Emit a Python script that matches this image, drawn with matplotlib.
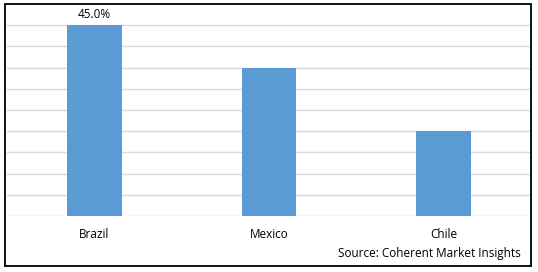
import numpy as np
import matplotlib.pyplot as plt
from matplotlib.patches import Rectangle

countries = ['Brazil', 'Mexico', 'Chile']
share = [45.0, 35.0, 20.0]

plt.rcParams['font.family'] = ['Open Sans', 'DejaVu Sans']

W, H = 538, 272
fig = plt.figure(figsize=(W/100, H/100), dpi=100)
# plot area in pixels: x 7..531, y 4..216 (top to bottom)
ax = fig.add_axes([7/W, 1-216/H, (531-7)/W, (216-4)/H])

xx = np.arange(len(countries))
ax.bar(xx, share, width=0.314, color='#5B9BD5', zorder=3)
ax.set_xlim(-0.5, len(countries)-0.5)
ax.set_ylim(0, 50)
ax.set_yticks(np.arange(0, 46, 5))
ax.yaxis.grid(True, color='#D9D9D9', linewidth=1, zorder=0)
ax.tick_params(axis='y', left=False, labelleft=False)
ax.tick_params(axis='x', bottom=False, labelsize=8.5, pad=5.5, colors='#000000')
ax.set_xticks(xx, countries)
for s in ax.spines.values():
    s.set_visible(False)

ax.annotate('{:.1f}%'.format(share[0]), (xx[0], share[0]), xytext=(0, 3),
            textcoords='offset points', ha='center', va='bottom', fontsize=8.5)

fig.text(521/W, 1-254/H, 'Source: Coherent Market Insights', ha='right', va='center', fontsize=8.5)

# outer frame
fig.patches.append(Rectangle((5/W, 1-266/H), (531-5)/W, (266-4)/H, transform=fig.transFigure,
                             fill=False, edgecolor='black', linewidth=1.3, zorder=10))

fig.savefig('out.png', dpi=100)
